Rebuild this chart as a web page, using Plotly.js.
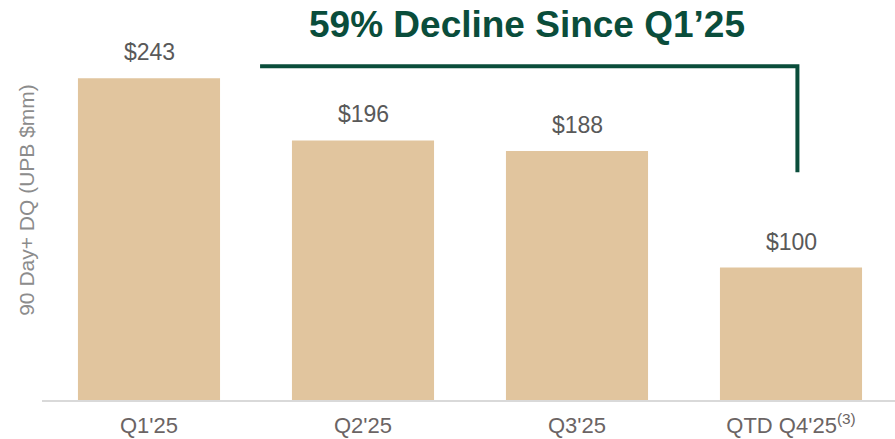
<!DOCTYPE html>
<html>
<head>
<meta charset="utf-8">
<script src="https://cdn.plot.ly/plotly-3.0.1.min.js"></script>
<style>html,body{margin:0;padding:0;background:#fff;}#chart{width:895px;height:439px;}</style>
</head>
<body>
<div id="chart"></div>
<script>
const categories = ["Q1'25", "Q2'25", "Q3'25", "QTD Q4'25<sup>(3)</sup>"];
const values = [243, 196, 188, 100];
const valueLabels = ["$243", "$196", "$188", "$100"];
const headline = "59% Decline Since Q1’25";
const yTitle = "90 Day+ DQ (UPB $mm)";

const green = "#0a4d3b";
const FONT = "Liberation Sans, Arial, sans-serif";

const trace = {
  type: "bar",
  x: categories,
  y: values,
  marker: {color: "#e1c59e"},
  hoverinfo: "skip"
};

const annotations = values.map((v, i) => ({
  x: categories[i], y: v, xref: "x", yref: "y",
  text: valueLabels[i], showarrow: false,
  yanchor: "bottom", yshift: 11,
  font: {family: FONT, size: 23, color: "#595959"}
}));
annotations.push({
  x: (527 - 42) / 853, y: 1 - 24 / 400, xref: "paper", yref: "paper",
  xanchor: "center", yanchor: "middle",
  text: "<b>" + headline + "</b>", showarrow: false,
  font: {family: FONT, size: 37, color: green}
});

const layout = {
  width: 895, height: 439,
  margin: {l: 42, r: 0, t: 0, b: 39},
  paper_bgcolor: "#fff", plot_bgcolor: "#fff",
  showlegend: false,
  bargap: 0.336,
  xaxis: {
    type: "category",
    range: [-0.5, -0.5 + 853 / 214],
    showline: true, linecolor: "#d9d9d9", linewidth: 2,
    ticks: "", showgrid: false, zeroline: false,
    tickfont: {family: FONT, size: 22, color: "#6b6464"},
    ticklabelstandoff: 5
  },
  yaxis: {
    range: [0, 302],
    showgrid: false, zeroline: false, showline: false, showticklabels: false, ticks: "",
    title: {text: yTitle, standoff: 0, font: {family: FONT, size: 21, color: "#8c8c8c"}}
  },
  annotations: annotations,
  shapes: [{
    type: "path", xref: "x", yref: "y",
    path: "M 0.519,252 L 3.03,252 L 3.03,172",
    line: {color: green, width: 4}
  }]
};

Plotly.newPlot("chart", [trace], layout, {displayModeBar: false, staticPlot: true});
</script>
</body>
</html>
